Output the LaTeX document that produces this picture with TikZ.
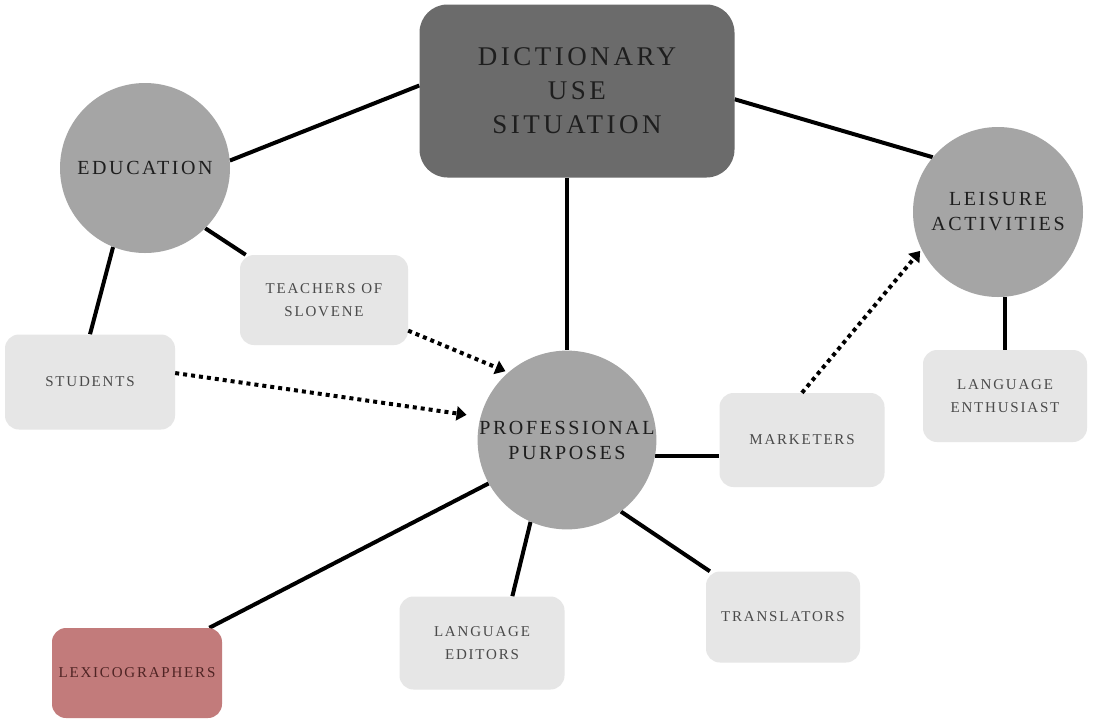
\documentclass[tikz,border=0pt]{standalone}
\usepackage{fontspec}
\setmainfont{Liberation Serif}
\newfontfamily\lblfont{Liberation Serif}[LetterSpace=12]
\newfontfamily\bigfont{Liberation Serif}[LetterSpace=13]
\usetikzlibrary{arrows.meta,backgrounds}
\definecolor{darkbox}{HTML}{6B6B6B}
\definecolor{blob}{HTML}{A5A5A5}
\definecolor{pale}{HTML}{E6E6E6}
\definecolor{rose}{HTML}{C27B7B}
\definecolor{ink}{HTML}{1E1E1E}
\definecolor{softink}{HTML}{4A4A4A}
\definecolor{roseink}{HTML}{4F2424}
\begin{document}
\begin{tikzpicture}[x=1pt,y=-1pt,
  hub/.style={circle, fill=blob, minimum size=170pt, inner sep=0pt, align=center,
    font=\bigfont\fontsize{20}{25}\selectfont, text=ink},
  card/.style={rectangle, rounded corners=14pt, fill=pale, inner sep=0pt, align=center,
    font=\lblfont\fontsize{15}{23}\selectfont, text=softink},
  link/.style={line width=4pt, draw=black},
  hint/.style={line width=4pt, draw=black, dash pattern=on 4pt off 4pt,
    -{Triangle[length=10pt,width=14pt]}},
]
\useasboundingbox (0,0) rectangle (1098,724);

\node[rectangle, rounded corners=28pt, fill=darkbox, minimum width=315pt, minimum height=173pt,
  inner sep=0pt, align=center, text=ink, font=\bigfont\fontsize{27}{34}\selectfont]
  (dict) at (577,91) {DICTIONARY\\USE\\SITUATION};

\node[hub] (edu) at (145,168) {EDUCATION};
\node[hub] (lei) at (998,212) {LEISURE\\ACTIVITIES};
\node[hub] (prof) at (567,440) {PROFESSIONAL\\PURPOSES};

\node[card, minimum width=168pt, minimum height=90pt] (teach) at (324,300) {TEACHERS OF\\SLOVENE};
\node[card, minimum width=170pt, minimum height=95pt] (stud) at (90,382) {STUDENTS};
\node[card, minimum width=165pt, minimum height=94pt] (mark) at (802,440) {MARKETERS};
\node[card, minimum width=164pt, minimum height=92pt] (enth) at (1005,396) {LANGUAGE\\ENTHUSIAST};
\node[card, minimum width=154pt, minimum height=91pt] (trans) at (783,617) {TRANSLATORS};
\node[card, minimum width=165pt, minimum height=93pt] (edit) at (482,643) {LANGUAGE\\EDITORS};
\node[card, fill=rose, text=roseink, minimum width=170pt, minimum height=90pt] (lex) at (137,673) {LEXICOGRAPHERS};

\begin{pgfonlayer}{background}
\fill[white] (0,0) rectangle (1098,724);
\draw[link] (dict.178) -- (edu.5);
\draw[link] (dict.-3) -- (lei.140);
\draw[link] (prof.north |- dict.south) -- (prof.north);
\draw[link] (edu.-45) -- (teach.150);
\draw[link] (edu.248) -- (stud.north);
\draw[link] (lei.south -| enth.north) -- (enth.north);
\draw[link] (prof.-10) -- (prof.-10 -| mark.west);
\draw[link] (prof.246) -- (edit.57);
\draw[link] (prof.-53) -- (trans.148);
\draw[link] (prof.209) -- (lex.32);
\end{pgfonlayer}

\draw[hint, shorten >=14pt] (stud.6) -- (prof.165);
\draw[hint, shorten >=3pt] (teach.-20) -- (prof.131);
\draw[hint, shorten >=2pt] (mark.north) -- (lei.206);
\end{tikzpicture}
\end{document}
